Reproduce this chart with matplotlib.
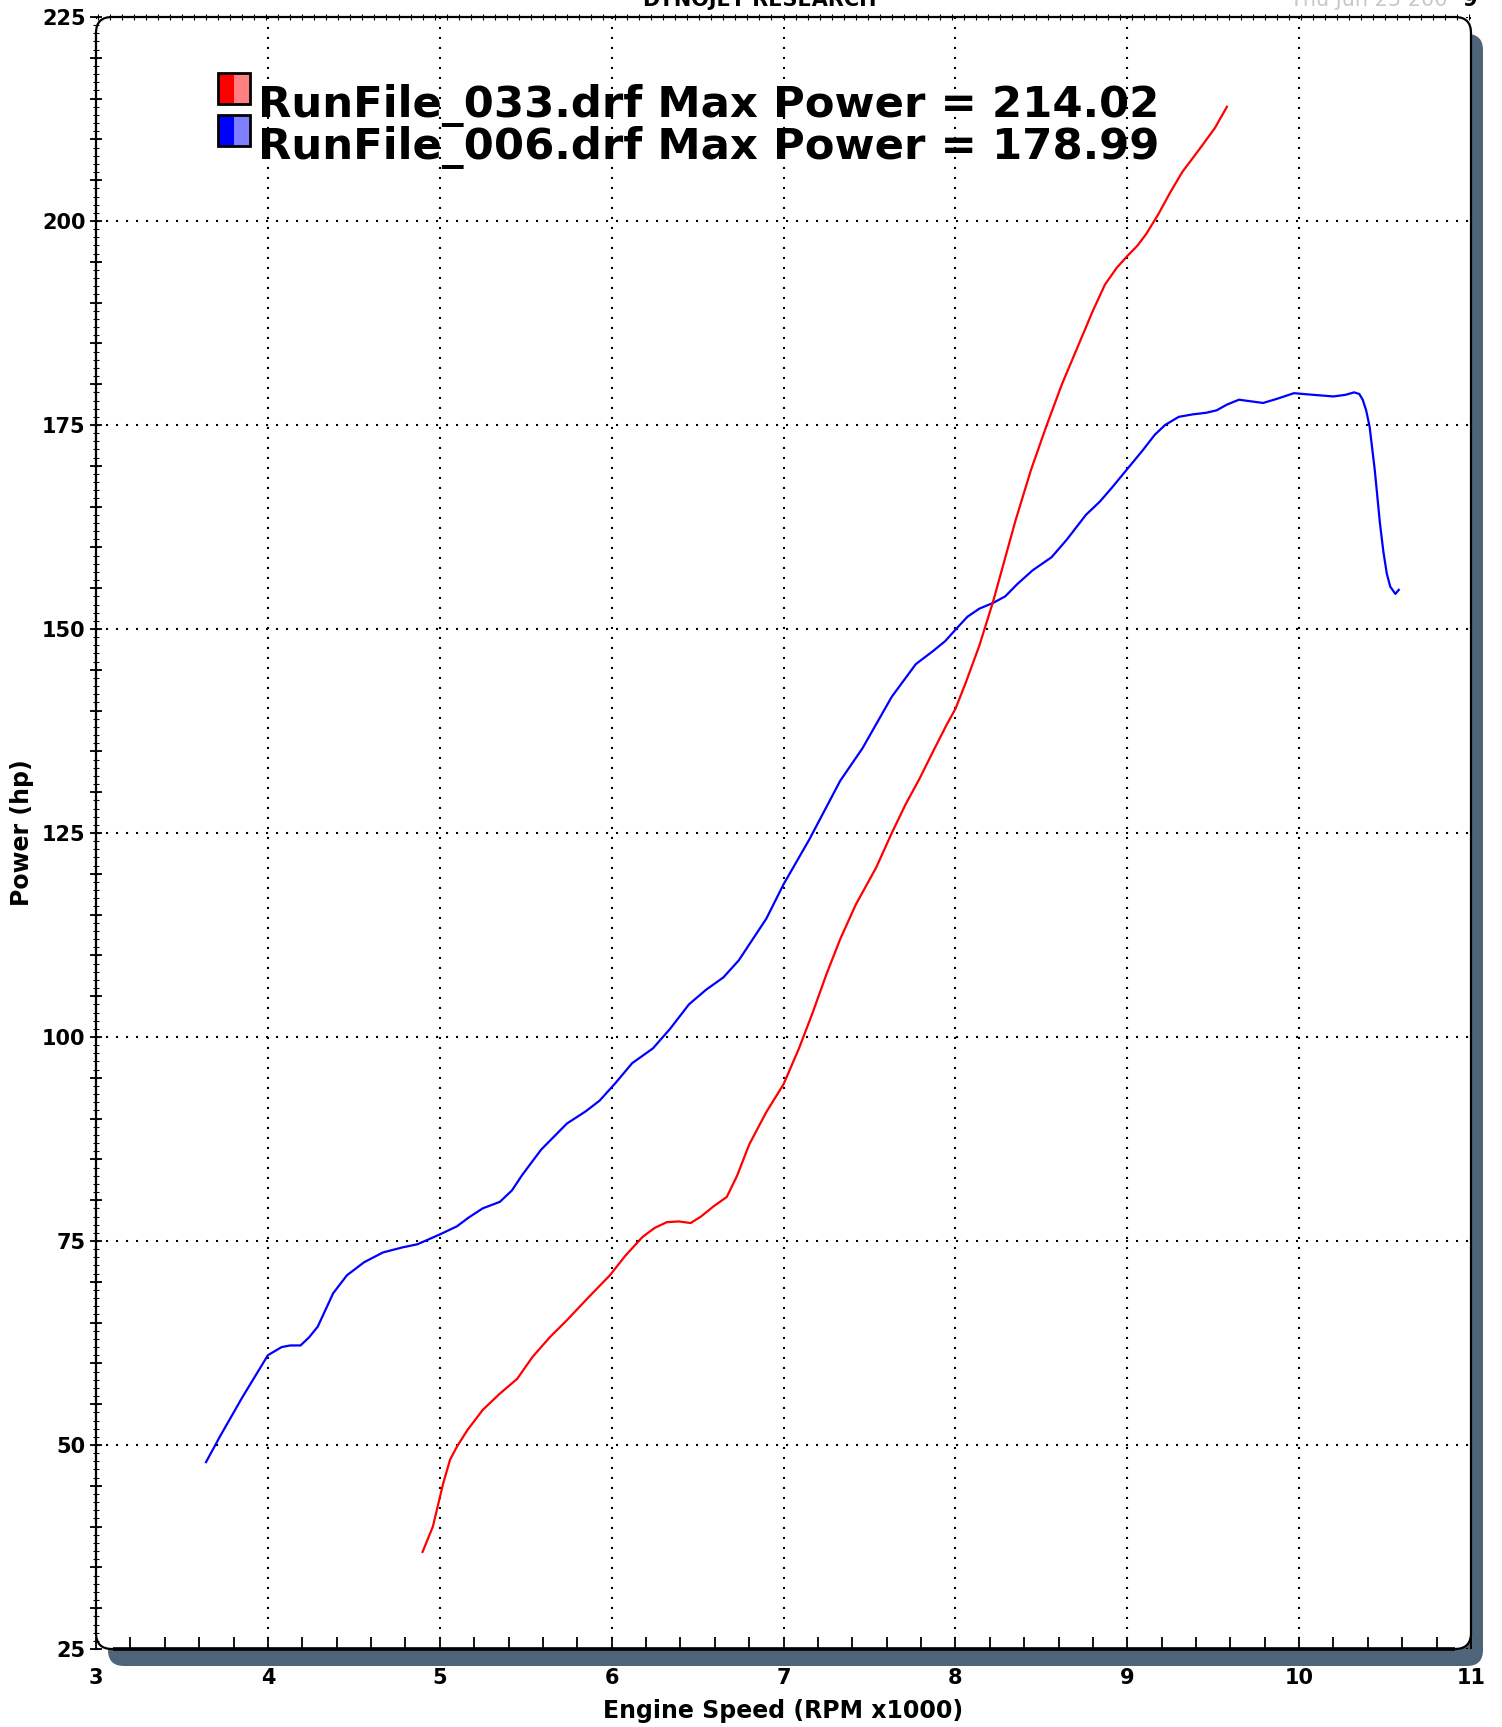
import numpy as np
import matplotlib
matplotlib.use("Agg")
import matplotlib.pyplot as plt
from matplotlib.patches import FancyBboxPatch, Rectangle
from matplotlib.ticker import MultipleLocator

# Run files shown in the legend
run_names = ["RunFile_033.drf", "RunFile_006.drf"]
max_power = [214.02, 178.99]
run_colors = ["#ff0000", "#0000ff"]
swatch_light = ["#ff8080", "#8080ff"]

# RunFile_033 (red) - engine speed (RPM x1000) and power (hp)
rpm_033 = [4.90, 4.96, 5.02, 5.06, 5.10, 5.16, 5.25, 5.35, 5.45, 5.54, 5.64, 5.74,
           5.87, 5.99, 6.08, 6.18, 6.25, 6.32, 6.39, 6.46, 6.52, 6.59, 6.67, 6.73,
           6.80, 6.90, 7.00, 7.09, 7.17, 7.25, 7.33, 7.42, 7.54, 7.63, 7.71, 7.79,
           7.88, 7.95, 8.00, 8.06, 8.14, 8.22, 8.30, 8.35, 8.44, 8.53, 8.62, 8.72,
           8.80, 8.87, 8.94, 9.00, 9.06, 9.11, 9.18, 9.25, 9.32, 9.42, 9.51, 9.58]
hp_033 = [36.9, 40.0, 45.3, 48.2, 49.8, 51.8, 54.3, 56.3, 58.1, 60.8, 63.2, 65.3,
          68.2, 70.8, 73.2, 75.5, 76.6, 77.3, 77.4, 77.2, 78.0, 79.2, 80.4, 83.0,
          86.8, 90.8, 94.2, 98.6, 103.0, 107.7, 112.0, 116.2, 120.8, 125.0, 128.5, 131.6,
          135.4, 138.3, 140.2, 143.4, 148.0, 153.4, 159.5, 163.3, 169.5, 174.9, 180.0, 185.0,
          189.0, 192.2, 194.3, 195.7, 197.0, 198.4, 200.8, 203.5, 206.0, 208.8, 211.4, 214.0]

# RunFile_006 (blue)
rpm_006 = [3.64, 3.72, 3.85, 4.00, 4.08, 4.13, 4.19, 4.24, 4.29, 4.38, 4.46, 4.56,
           4.67, 4.78, 4.87, 5.00, 5.10, 5.17, 5.25, 5.35, 5.42, 5.48, 5.59, 5.74,
           5.85, 5.93, 6.02, 6.12, 6.24, 6.34, 6.45, 6.55, 6.65, 6.74, 6.90, 7.00,
           7.15, 7.33, 7.46, 7.63, 7.77, 7.87, 7.94, 8.00, 8.07, 8.14, 8.22, 8.29,
           8.36, 8.45, 8.56, 8.65, 8.76, 8.84, 8.91, 9.00, 9.09, 9.16, 9.22, 9.30,
           9.38, 9.46, 9.52, 9.58, 9.65, 9.72, 9.79, 9.87, 9.97, 10.08, 10.20, 10.27,
           10.32, 10.35, 10.37, 10.39, 10.41, 10.44, 10.47, 10.49, 10.51, 10.53, 10.56, 10.58]
hp_006 = [47.9, 51.0, 55.8, 61.0, 62.0, 62.2, 62.2, 63.2, 64.5, 68.6, 70.8, 72.4,
          73.6, 74.2, 74.6, 75.8, 76.8, 77.9, 79.0, 79.8, 81.2, 83.1, 86.2, 89.4,
          90.9, 92.2, 94.3, 96.8, 98.6, 101.0, 104.0, 105.8, 107.3, 109.4, 114.5, 118.7,
          124.2, 131.4, 135.4, 141.7, 145.7, 147.3, 148.5, 149.9, 151.5, 152.5, 153.2, 154.0,
          155.5, 157.2, 158.8, 161.0, 164.0, 165.6, 167.3, 169.6, 171.9, 173.8, 175.0, 176.0,
          176.3, 176.5, 176.8, 177.5, 178.1, 177.9, 177.7, 178.2, 178.9, 178.7, 178.5, 178.7,
          179.0, 178.8, 178.1, 176.8, 174.8, 169.5, 163.0, 159.5, 156.8, 155.2, 154.3, 154.8]

W, H = 1502, 1727
fig = plt.figure(figsize=(W / 100, H / 100), dpi=100)

# plot box in pixels
L, R, T, B = 96, 1471, 17, 1649
ax = fig.add_axes([L / W, 1 - B / H, (R - L) / W, (B - T) / H])
ax.patch.set_alpha(0)
for s in ax.spines.values():
    s.set_visible(False)

# shadow, white panel and rounded frame
asp = W / H
rad = 16 / W
box = [L / W, 1 - B / H, (R - L) / W, (B - T) / H]
shadow = FancyBboxPatch((box[0] + 12 / W, box[1] - 17 / H), box[2], box[3],
                        boxstyle=f"round,pad=0,rounding_size={rad}", mutation_aspect=asp,
                        transform=fig.transFigure, facecolor="#4f6479", edgecolor="none", zorder=-3)
panel = FancyBboxPatch((box[0], box[1]), box[2], box[3],
                       boxstyle=f"round,pad=0,rounding_size={rad}", mutation_aspect=asp,
                       transform=fig.transFigure, facecolor="white", edgecolor="none", zorder=-2)
frame = FancyBboxPatch((box[0], box[1]), box[2], box[3],
                       boxstyle=f"round,pad=0,rounding_size={rad}", mutation_aspect=asp,
                       transform=fig.transFigure, facecolor="none", edgecolor="black",
                       linewidth=1.6, zorder=5)
fig.patches.extend([shadow, panel, frame])
# thicker bottom edge
ax.plot([0.012, 0.988], [0, 0], transform=ax.transAxes, color="black", lw=2.6,
        clip_on=False, solid_capstyle="butt", zorder=6)

ax.plot(rpm_006, hp_006, color=run_colors[1], lw=1.6, zorder=3)
ax.plot(rpm_033, hp_033, color=run_colors[0], lw=1.6, zorder=4)

ax.set_xlim(3, 11)
ax.set_ylim(25, 225)
ax.xaxis.set_major_locator(MultipleLocator(1))
ax.xaxis.set_minor_locator(MultipleLocator(0.2))
ax.yaxis.set_major_locator(MultipleLocator(25))
ax.yaxis.set_minor_locator(MultipleLocator(5))
ax.tick_params(axis="x", which="both", direction="in", top=False, length=9, width=1.3,
               pad=14, labelsize=15)
ax.tick_params(axis="y", which="both", direction="inout", right=False, length=9, width=1.3,
               pad=3, labelsize=15)
for lab in ax.get_xticklabels() + ax.get_yticklabels():
    lab.set_fontweight("bold")

# tiny ticks along top and left edges
top = ax.secondary_xaxis("top")
top.xaxis.set_major_locator(MultipleLocator(0.07))
top.tick_params(direction="inout", length=4, width=0.8, labeltop=False)
top.spines["top"].set_visible(False)
left = ax.secondary_yaxis("left")
left.yaxis.set_major_locator(MultipleLocator(1))
left.tick_params(direction="inout", length=4, width=0.8, labelleft=False)
left.spines["left"].set_visible(False)

ax.grid(which="major", color="black", linestyle=(0, (1, 3.8)), linewidth=1.5)
ax.set_axisbelow(True)

ax.set_xlabel("Engine Speed (RPM x1000)", fontsize=17, fontweight="bold")
ax.xaxis.set_label_coords(0.5, -0.0305)
ax.set_ylabel("Power (hp)", fontsize=17, fontweight="bold", labelpad=6)

# legend
for i, (name, mp) in enumerate(zip(run_names, max_power)):
    y0 = 1 - (104 + 42 * i) / H
    fig.patches.append(Rectangle((218 / W, y0), 16 / W, 31 / H, transform=fig.transFigure,
                                 facecolor=run_colors[i], edgecolor="none", zorder=6))
    fig.patches.append(Rectangle((234 / W, y0), 16 / W, 31 / H, transform=fig.transFigure,
                                 facecolor=swatch_light[i], edgecolor="none", zorder=6))
    fig.patches.append(Rectangle((218 / W, y0), 32 / W, 31 / H, transform=fig.transFigure,
                                 facecolor="none", edgecolor="black", lw=2, zorder=7))
    fig.text(258 / W, 1 - (117 + 42 * i) / H, f"{name} Max Power = {mp:.2f}",
             fontsize=31.2, fontweight="bold", ha="left", va="baseline", zorder=8)

# header text, cut off by the top of the image
fig.text(760 / W, 1 - 6 / H, "DYNOJET RESEARCH", fontsize=15, fontweight="bold",
         ha="center", va="baseline")
fig.text(1448 / W, 1 - 6 / H, "Thu Jun 25 200", fontsize=15, color="#c8c8c8",
         ha="right", va="baseline")
fig.text(1478 / W, 1 - 6 / H, "9", fontsize=15, fontweight="bold", ha="right", va="baseline")

fig.savefig("out.png", dpi=100)
